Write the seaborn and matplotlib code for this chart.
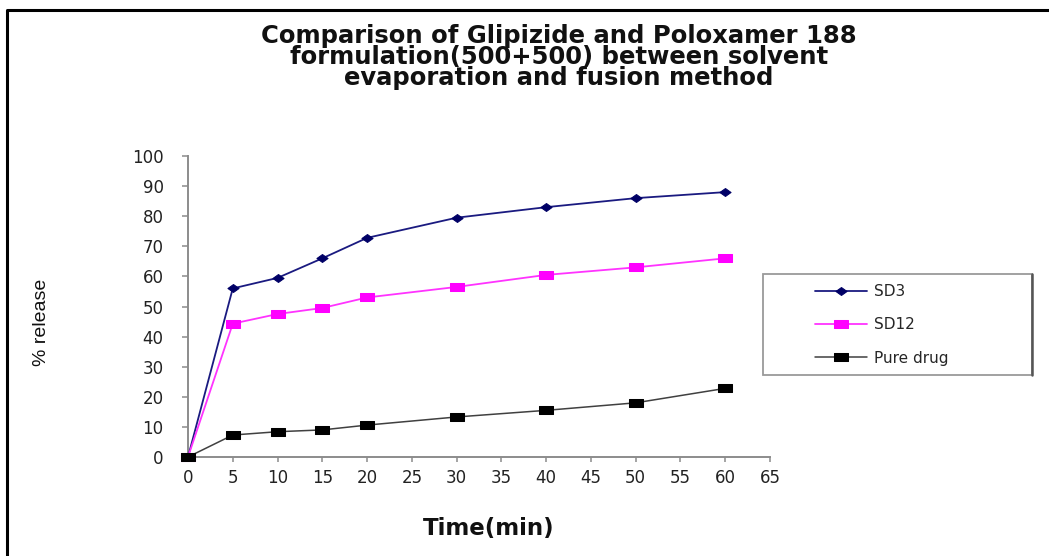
import matplotlib
matplotlib.use("Agg")
import matplotlib.pyplot as plt
from matplotlib.path import Path
from matplotlib.patches import Rectangle
from matplotlib.lines import Line2D
import seaborn as sns
import pandas as pd

time_min = [0, 5, 10, 15, 20, 30, 40, 50, 60]
sd3 = [0, 56.0, 59.5, 66.0, 72.8, 79.5, 83.0, 86.0, 88.0]
sd12 = [0, 44.3, 47.5, 49.5, 53.0, 56.5, 60.5, 63.0, 66.0]
pure_drug = [0, 7.3, 8.4, 9.0, 10.6, 13.3, 15.5, 18.0, 22.8]
series_names = ["SD3", "SD12", "Pure drug"]
x_ticks = list(range(0, 70, 5))
y_ticks = list(range(0, 110, 10))
title = "Comparison of Glipizide and Poloxamer 188\nformulation(500+500) between solvent\nevaporation and fusion method"

sns.set_style("white")
plt.rcParams["font.family"] = ["DejaVu Sans"]

W, H = 1049, 556
fig = plt.figure(figsize=(W / 100, H / 100), dpi=100)
ax = fig.add_axes([188 / W, 1 - 457 / H, (770 - 188) / W, (457 - 156) / H])
ax.set_facecolor("none")

rect_marker = Path([(-1.6, -1), (1.6, -1), (1.6, 1), (-1.6, 1), (-1.6, -1)],
                   [Path.MOVETO, Path.LINETO, Path.LINETO, Path.LINETO, Path.CLOSEPOLY])
diamond_marker = Path([(-1.4, 0), (0, 1), (1.4, 0), (0, -1), (-1.4, 0)],
                      [Path.MOVETO, Path.LINETO, Path.LINETO, Path.LINETO, Path.CLOSEPOLY])

df = pd.DataFrame({"Time": time_min, "SD3": sd3, "SD12": sd12, "Pure drug": pure_drug})

styles = {
    "SD3": dict(color="#1a1a80", marker=diamond_marker, markersize=8, lw=1.3),
    "SD12": dict(color="#ff33ff", marker=rect_marker, markersize=10, lw=1.3),
    "Pure drug": dict(color="#404040", marker=rect_marker, markersize=10, lw=1.1),
}
mfc = {"SD3": "#000066", "SD12": "#ff00ff", "Pure drug": "#000000"}

for name in series_names:
    st = styles[name]
    sns.lineplot(data=df, x="Time", y=name, ax=ax, color=st["color"], marker=st["marker"],
                 markersize=st["markersize"], linewidth=st["lw"], markerfacecolor=mfc[name],
                 markeredgecolor=mfc[name], label=name, clip_on=False, zorder=3)

ax.set_xlim(0, 65)
ax.set_ylim(0, 100)
ax.set_xticks(x_ticks)
ax.set_yticks(y_ticks)
for s in ["top", "right"]:
    ax.spines[s].set_visible(False)
for s in ["left", "bottom"]:
    ax.spines[s].set_color("#8c8c8c")
    ax.spines[s].set_linewidth(1.4)
ax.tick_params(axis="y", direction="out", length=4.5, width=1.1, color="#8c8c8c",
               pad=13, labelsize=12, labelcolor="#222222", left=True)
ax.tick_params(axis="x", direction="out", length=3.5, width=1.1, color="#8c8c8c",
               pad=5, labelsize=12, labelcolor="#222222", bottom=True)
ax.set_xlabel("")
ax.set_ylabel("")

fig.text(489 / W, 1 - 528 / H, "Time(min)", ha="center", va="center",
         fontsize=16.5, fontweight="bold", color="#111111")
fig.text(42 / W, 1 - 322 / H, "% release", ha="center", va="center", rotation=90,
         fontsize=14, family=["Liberation Sans"], color="#111111")
fig.text(559 / W, 1 - 57 / H, title, ha="center", va="center", fontsize=17.5,
         fontweight="bold", linespacing=0.84, color="#111111")

# legend box
ax.add_patch(Rectangle((763 / W, 1 - 375 / H), (1032 - 763) / W, (375 - 274) / H,
                       transform=fig.transFigure, facecolor="white", edgecolor="#9a9a9a",
                       lw=1.3, clip_on=False, zorder=4))
ax.add_line(Line2D([1032 / W, 1032 / W], [1 - 375 / H, 1 - 274 / H], transform=fig.transFigure,
                   color="#555555", lw=1.8, clip_on=False, zorder=4))
leg = ax.legend(loc="upper left", bbox_to_anchor=(815 / W, 1 - 284 / H),
                bbox_transform=fig.transFigure, frameon=False, fontsize=11,
                handlelength=3.4, handletextpad=0.45, labelspacing=1.2,
                borderpad=0, borderaxespad=0)
leg.set_zorder(5)

# outer border
fig.add_artist(Line2D([7 / W, 7 / W, 1.0], [0.0, 1 - 10 / H, 1 - 10 / H],
                      transform=fig.transFigure, color="black", lw=2.2))

fig.savefig("out.png", dpi=100)
